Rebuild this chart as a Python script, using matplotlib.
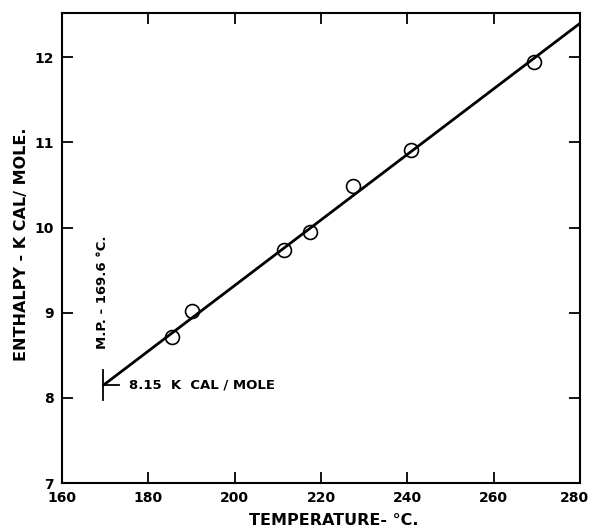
import matplotlib
matplotlib.use("Agg")
import matplotlib.pyplot as plt
import matplotlib.transforms as mtransforms
import numpy as np

# Data
temps = [185.5, 190.0, 211.3, 217.4, 227.5, 240.8, 269.4]
enthalpy = [8.71, 9.02, 9.74, 9.95, 10.49, 10.91, 11.95]
fit_x = [169.6, 280.0]
fit_y = [8.15, 12.40]
mp_temp = 169.6
mp_enthalpy = 8.15
x_ticks = [160, 180, 200, 220, 240, 260, 280]
y_ticks = [7, 8, 9, 10, 11, 12]
y_tick_labels = ["7", "8", "9", "10", "11", "12"]

plt.rcParams['font.family'] = ['DejaVu Sans']
fig = plt.figure(figsize=(5.92, 5.32), dpi=100)
ax = fig.add_axes([0.1047, 0.092, 0.8753, 0.8836])

ax.plot(fit_x, fit_y, color='black', lw=2.0, solid_capstyle='butt', zorder=2)
ax.plot(temps, enthalpy, 'o', mfc='none', mec='black', mew=1.2, ms=10, zorder=3)

# Melting point marker
ax.plot([mp_temp, mp_temp], [7.98, 8.33], color='black', lw=1.3)
ax.plot([mp_temp, mp_temp + 3.6], [mp_enthalpy, mp_enthalpy], color='black', lw=1.3)
ax.text(175.5, mp_enthalpy, "8.15  K  CAL / MOLE", fontsize=9.5, fontweight='bold',
        va='center', ha='left')
ax.text(169.3, 9.24, "M.P. - 169.6 °C.", fontsize=9.5, fontweight='bold',
        rotation=90, va='center', ha='center')

ax.set_xlim(160, 280)
ax.set_ylim(7, 12.52)
ax.set_xticks(x_ticks)
ax.set_yticks(y_ticks)
ax.set_yticklabels(y_tick_labels)
ax.tick_params(direction='in', length=8, width=1.3, top=True, right=True,
               labelsize=10, pad=6)
for lab in ax.get_xticklabels() + ax.get_yticklabels():
    lab.set_fontweight('bold')
for s in ax.spines.values():
    s.set_linewidth(1.5)

# shift last x tick label slightly left so it stays inside the figure
last = ax.get_xticklabels()[-1]
last.set_transform(last.get_transform() +
                   mtransforms.ScaledTranslation(-6 / 100, 0, fig.dpi_scale_trans))

fig.text(0.563, 0.022, "TEMPERATURE- °C.", fontsize=11.5, fontweight='bold',
         ha='center', va='center')
fig.text(0.037, 0.54, "ENTHALPY - K CAL/ MOLE.", fontsize=11.5, fontweight='bold',
         ha='center', va='center', rotation=90)

fig.savefig("out.png", dpi=100)
